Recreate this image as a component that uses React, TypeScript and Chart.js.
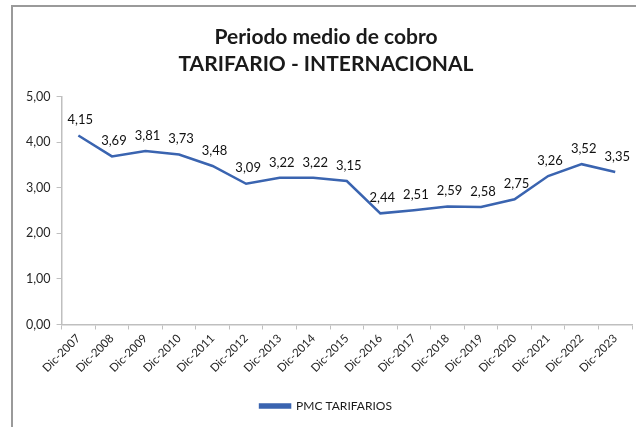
import React, { useEffect, useRef } from "react";
import { Chart, registerables } from "chart.js";

Chart.register(...registerables);

const categories = [
  "Dic-2007", "Dic-2008", "Dic-2009", "Dic-2010", "Dic-2011", "Dic-2012",
  "Dic-2013", "Dic-2014", "Dic-2015", "Dic-2016", "Dic-2017", "Dic-2018",
  "Dic-2019", "Dic-2020", "Dic-2021", "Dic-2022", "Dic-2023",
];
const pmcTarifarios = [
  4.15, 3.69, 3.81, 3.73, 3.48, 3.09, 3.22, 3.22, 3.15, 2.44, 2.51, 2.59,
  2.58, 2.75, 3.26, 3.52, 3.35,
];
const titleLines = ["Periodo medio de cobro", "TARIFARIO - INTERNACIONAL"];
const seriesName = "PMC TARIFARIOS";

const fmt = (v: number) => v.toFixed(2).replace(".", ",");

const framePlugin = {
  id: "frame",
  beforeDraw(chart: any) {
    const { ctx, width, height } = chart;
    ctx.save();
    ctx.fillStyle = "#ffffff";
    ctx.fillRect(0, 0, width, height);
    ctx.strokeStyle = "#9a9a9a";
    ctx.lineWidth = 2;
    ctx.beginPath();
    ctx.moveTo(12, height);
    ctx.lineTo(12, 6);
    ctx.lineTo(width, 6);
    ctx.stroke();
    ctx.restore();
  },
};

const labelPlugin = {
  id: "pointLabels",
  afterDatasetsDraw(chart: any) {
    const { ctx } = chart;
    const meta = chart.getDatasetMeta(0);
    ctx.save();
    ctx.font = "13px Lato";
    ctx.fillStyle = "#111111";
    ctx.textAlign = "center";
    ctx.textBaseline = "bottom";
    meta.data.forEach((pt: any, i: number) => {
      ctx.fillText(fmt(pmcTarifarios[i]), pt.x + 2, pt.y - 9);
    });
    ctx.restore();
  },
};

export default function App() {
  const ref = useRef<HTMLCanvasElement>(null);
  useEffect(() => {
    document.body.style.margin = "0";
    const chart = new Chart(ref.current!, {
      type: "line",
      data: {
        labels: categories,
        datasets: [
          {
            label: seriesName,
            data: pmcTarifarios,
            borderColor: "#3a64b0",
            backgroundColor: "#3a64b0",
            borderWidth: 2.5,
            pointRadius: 0,
            tension: 0,
          },
        ],
      },
      options: {
        animation: false,
        responsive: false,
        layout: { padding: { left: 20, right: 4, top: 10, bottom: 5 } },
        plugins: {
          title: {
            display: true,
            text: titleLines,
            color: "#1a1a1a",
            font: { family: "Lato", size: 21, weight: "bold", lineHeight: 1.28 },
            padding: { top: 14, bottom: 19 },
          },
          legend: {
            display: true,
            position: "bottom",
            labels: {
              boxWidth: 30,
              boxHeight: 3,
              color: "#1a1a1a",
              font: { family: "Lato", size: 12 },
            },
          },
          tooltip: { enabled: false },
        },
        scales: {
          x: {
            offset: true,
            afterFit: (scale: any) => {
              scale.height += 13;
            },
            grid: {
              display: true,
              drawOnChartArea: false,
              drawTicks: true,
              tickLength: 5,
              offset: true,
              color: "#bfbfbf",
            },
            border: { color: "#bfbfbf", width: 1.5 },
            ticks: {
              minRotation: 45,
              maxRotation: 45,
              color: "#262626",
              font: { family: "Lato", size: 11.5 },
              padding: 2,
            },
          },
          y: {
            min: 0,
            max: 5,
            grid: {
              display: true,
              drawOnChartArea: false,
              drawTicks: true,
              tickLength: 5,
              color: "#bfbfbf",
            },
            border: { color: "#bfbfbf", width: 1.5 },
            ticks: {
              stepSize: 1,
              color: "#262626",
              font: { family: "Lato", size: 12.5 },
              padding: 6,
              callback: (v: any) => fmt(Number(v)),
            },
          },
        },
      },
      plugins: [framePlugin, labelPlugin],
    });
    return () => chart.destroy();
  }, []);
  return <canvas ref={ref} width={636} height={427} style={{ display: "block" }} />;
}
